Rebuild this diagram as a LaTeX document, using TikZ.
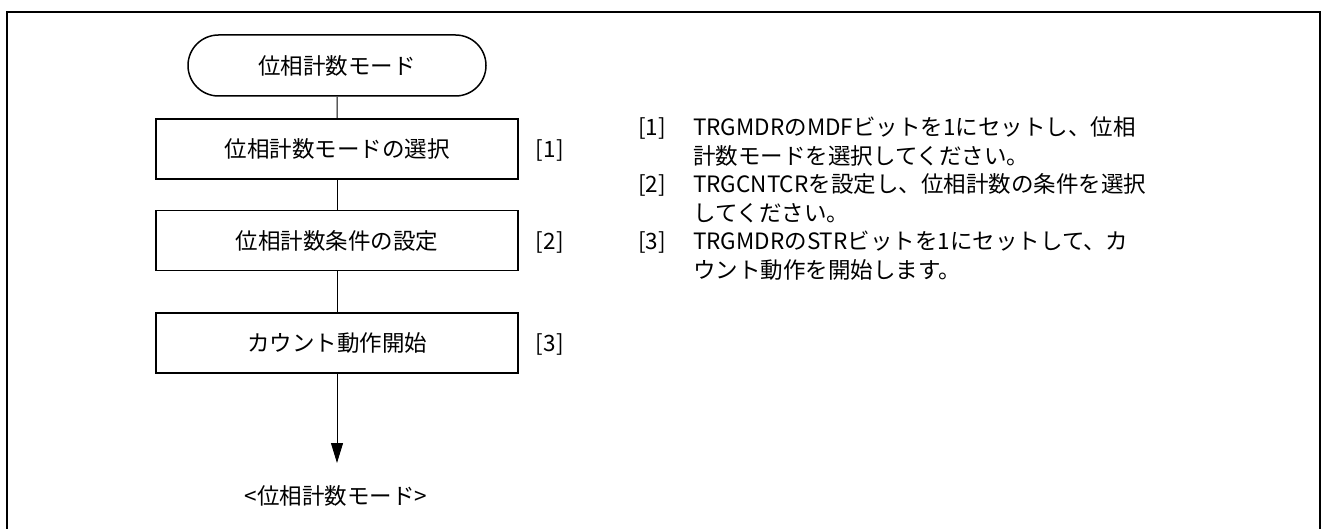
\documentclass[tikz,border=0pt]{standalone}
\usepackage{fontspec}
\setmainfont{Noto Sans CJK JP}
\usetikzlibrary{arrows.meta,shapes.misc}
\newcommand{\fsz}{\fontsize{22.5}{28.6}\selectfont}
\newcommand{\twolines}[2]{\vtop{\baselineskip=28.6pt\hbox{#1}\hbox{#2}}}
\begin{document}
\begin{tikzpicture}[x=1pt,y=-1pt,
  every node/.style={font=\fsz, text=black},
  term/.style={draw, line width=1.5pt, rounded rectangle, minimum width=298pt, minimum height=61pt, inner sep=0pt},
  proc/.style={draw, line width=1.5pt, rectangle, minimum width=362pt, minimum height=60pt, inner sep=0pt},
  conn/.style={line width=1pt},
  arr/.style={line width=1pt, -{Triangle[width=12pt,length=20pt]}},
  lab/.style={anchor=base west, inner sep=0pt},
  note/.style={anchor=base west, inner sep=0pt}
]
\useasboundingbox (0,0) rectangle (1324,529);
\draw[line width=2pt] (7,529) -- (7,12) -- (1320,12) -- (1320,529);

\node[term] (t0) at (337,65.5) {位相計数モード};
\node[proc] (b1) at (337,149) {位相計数モードの選択};
\node[proc] (b2) at (337,240.5) {位相計数条件の設定};
\node[proc] (b3) at (337,343) {カウント動作開始};
\coordinate (e) at (337,463);
\node (endtxt) at (336,496) {<位相計数モード>};

\draw[conn] (t0) -- (b1);
\draw[conn] (b1) -- (b2);
\draw[conn] (b2) -- (b3);
\draw[arr] (b3) -- (e);

\node[lab] (l1) at ([xshift=17pt]b1.base east) {[1]};
\node[lab] (l2) at ([xshift=17pt]b2.base east) {[2]};
\node[lab] (l3) at ([xshift=17pt]b3.base east) {[3]};

\node[note] (n1l) at (638,135.5) {[1]};
\node[note] (n1) at (693,135.5) {\twolines{TRGMDRのMDFビットを1にセットし、位相}{計数モードを選択してください。}};
\node[note] (n2l) at (638,192.7) {[2]};
\node[note] (n2) at (693,192.7) {\twolines{TRGCNTCRを設定し、位相計数の条件を選択}{してください。}};
\node[note] (n3l) at (638,249.9) {[3]};
\node[note] (n3) at (693,249.9) {\twolines{TRGMDRのSTRビットを1にセットして、カ}{ウント動作を開始します。}};
\end{tikzpicture}
\end{document}
